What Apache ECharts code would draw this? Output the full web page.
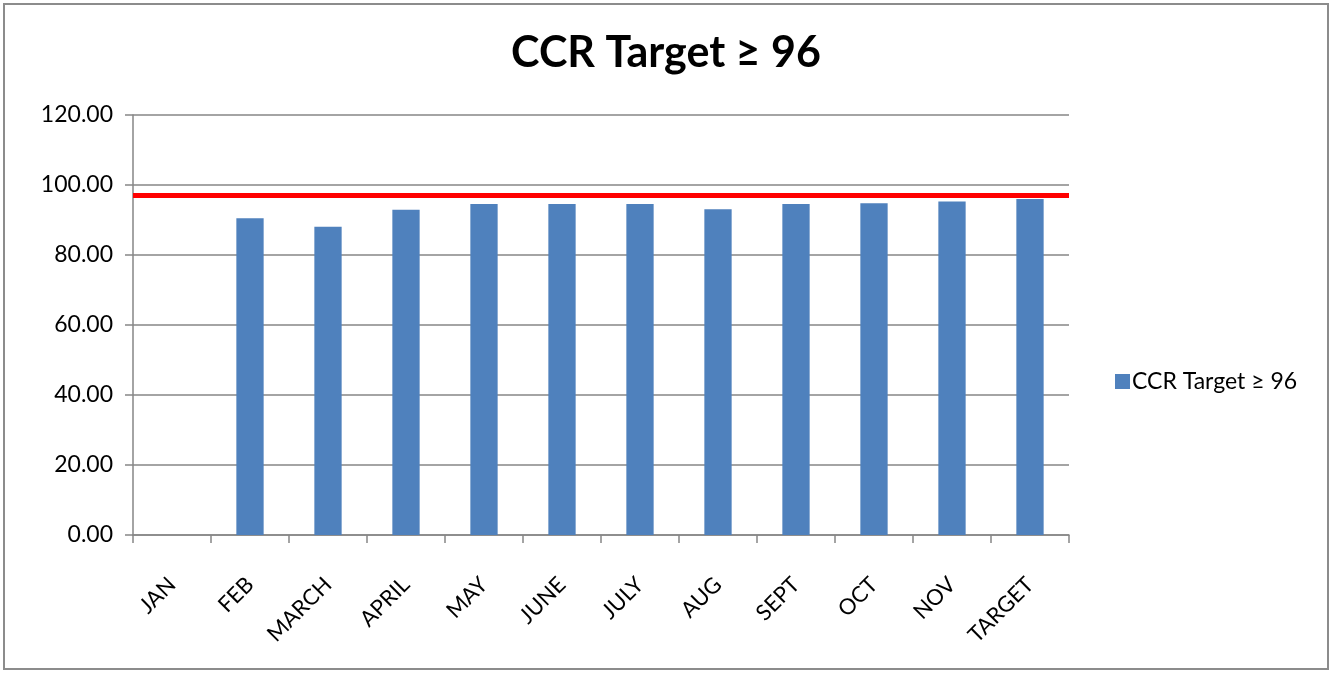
<!DOCTYPE html>
<html>
<head>
<meta charset="utf-8">
<script src="https://cdn.jsdelivr.net/npm/echarts@6/dist/echarts.min.js"></script>
<style>
  html, body { margin: 0; padding: 0; background: #fff; }
  #frame { position: absolute; left: 3px; top: 3px; width: 1322px; height: 663px; border: 2px solid #8c8c8c; }
  #chart { position: absolute; left: 0; top: 0; width: 1332px; height: 673px; }
</style>
</head>
<body>
<div id="frame"></div>
<div id="chart"></div>
<script>
const months = ['JAN', 'FEB', 'MARCH', 'APRIL', 'MAY', 'JUNE', 'JULY', 'AUG', 'SEPT', 'OCT', 'NOV', 'TARGET'];
const ccrValues = [null, 90.5, 88.1, 92.9, 94.6, 94.6, 94.6, 93.1, 94.6, 94.8, 95.3, 96.0];
const targetLine = 97;
const yTicks = { min: 0, max: 120, interval: 20 };
const seriesName = 'CCR Target \u2265 96';

const FONT = 'Lato, "Open Sans", sans-serif';

const chart = echarts.init(document.getElementById('chart'));

chart.setOption({
    backgroundColor: 'transparent',
    animation: false,
    title: {
        text: seriesName,
        left: 'center',
        top: 27,
        textStyle: { fontFamily: FONT, fontSize: 43, fontWeight: 'bold', color: '#000' }
    },
    legend: {
        data: [{ name: seriesName, icon: 'rect' }],
        orient: 'vertical',
        left: 1110,
        top: 365,
        itemWidth: 15,
        itemHeight: 15,
        itemGap: 6,
        textStyle: { fontFamily: FONT, fontSize: 23, color: '#000', padding: [0, 0, 0, -3] }
    },
    grid: { left: 133, right: 263, top: 115, bottom: 138, containLabel: false },
    xAxis: {
        type: 'category',
        data: months,
        boundaryGap: true,
        axisLine: { lineStyle: { color: '#868686', width: 1.5 } },
        axisTick: { show: true, length: 8, lineStyle: { color: '#868686', width: 1.5 } },
        axisLabel: {
            rotate: 45,
            interval: 0,
            margin: 46,
            fontFamily: FONT,
            fontSize: 22,
            color: '#000'
        }
    },
    yAxis: {
        type: 'value',
        min: yTicks.min,
        max: yTicks.max,
        interval: yTicks.interval,
        axisLine: { show: true, lineStyle: { color: '#868686', width: 1.5 } },
        axisTick: { show: true, length: 8, lineStyle: { color: '#868686', width: 1.5 } },
        splitLine: { lineStyle: { color: '#868686', width: 1.5 } },
        axisLabel: {
            margin: 20,
            fontFamily: FONT,
            fontSize: 23,
            color: '#000',
            formatter: v => v.toFixed(2)
        }
    },
    series: [{
        name: seriesName,
        type: 'bar',
        data: ccrValues,
        barWidth: '35%',
        itemStyle: { color: '#4F81BD' },
        markLine: {
            silent: true,
            symbol: ['none', 'none'],
            label: { show: false },
            lineStyle: { color: '#FF0000', width: 5, type: 'solid' },
            data: [{ yAxis: targetLine }]
        }
    }]
});
</script>
</body>
</html>
